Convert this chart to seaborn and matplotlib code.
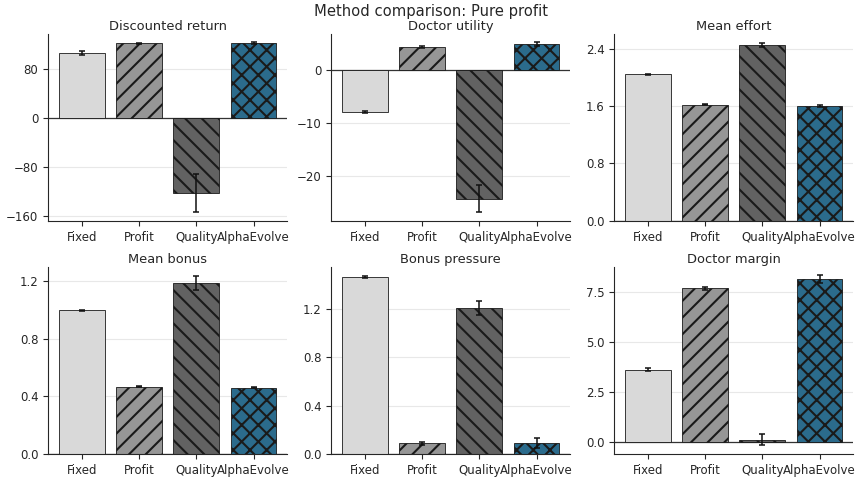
import numpy as np
import pandas as pd
import matplotlib
matplotlib.use('Agg')
import matplotlib.pyplot as plt
import seaborn as sns

# dados =======================================================================
metodos = ['Fixed', 'Profit', 'Quality', 'AlphaEvolve']
cores = ['#d9d9d9', '#969696', '#626262', '#2b6b8c']
hachuras = ['', '//', '\\\\', 'xx']

titulos = ['Discounted return', 'Doctor utility', 'Mean effort',
           'Mean bonus', 'Bonus pressure', 'Doctor margin']

retorno = [107.0, 122.5, -122.5, 123.0]
retorno_err = [3.0, 1.0, 31.0, 1.0]
utilidade = [-7.9, 4.5, -24.4, 5.0]
utilidade_err = [0.15, 0.2, 2.6, 0.3]
esforco = [2.04, 1.62, 2.45, 1.60]
esforco_err = [0.008, 0.008, 0.03, 0.01]
bonus = [0.997, 0.466, 1.186, 0.459]
bonus_err = [0.003, 0.003, 0.05, 0.004]
pressao = [1.46, 0.087, 1.205, 0.09]
pressao_err = [0.01, 0.012, 0.06, 0.04]
margem = [3.63, 7.70, 0.13, 8.15]
margem_err = [0.08, 0.09, 0.3, 0.2]

yticks = [[-160, -80, 0, 80], [-20, -10, 0], [0.0, 0.8, 1.6, 2.4],
          [0.0, 0.4, 0.8, 1.2], [0.0, 0.4, 0.8, 1.2], [0.0, 2.5, 5.0, 7.5]]
yformatos = ['{:.0f}', '{:.0f}', '{:.1f}', '{:.1f}', '{:.1f}', '{:.1f}']

valores = [retorno, utilidade, esforco, bonus, pressao, margem]
erros = [retorno_err, utilidade_err, esforco_err, bonus_err, pressao_err, margem_err]

# plot ========================================================================
sns.set_style('ticks')
plt.rcParams['font.family'] = ['DejaVu Sans']
plt.rcParams['hatch.linewidth'] = 1.5

fig, axes = plt.subplots(2, 3, figsize=(8.61, 4.84), dpi=100)
fig.subplots_adjust(left=0.056, right=0.991, top=0.93, bottom=0.062,
                    wspace=0.184, hspace=0.246)

for ax, titulo, vals, errs, ticks, fmt in zip(axes.flat, titulos, valores, erros,
                                              yticks, yformatos):
    df = pd.DataFrame({'metodo': metodos, 'valor': vals})
    sns.barplot(data=df, x='metodo', y='valor', hue='metodo', palette=cores,
                order=metodos, hue_order=metodos, legend=False, errorbar=None,
                saturation=1, width=0.8, edgecolor='#1a1a1a', linewidth=0.6,
                ax=ax, zorder=2)
    for barra, h in zip(ax.patches, hachuras):
        barra.set_hatch(h)
    ax.errorbar(np.arange(len(metodos)), vals, yerr=errs, fmt='none',
                ecolor='#111111', elinewidth=1.1, capsize=2.5, capthick=1.1, zorder=3)
    ax.axhline(0, color='#333333', linewidth=0.9, zorder=1)
    ax.set_xlim(-0.59, 3.59)
    ax.set_yticks(ticks)
    ax.set_yticklabels([fmt.format(t).replace('-', '\u2212') for t in ticks])
    ax.yaxis.grid(True, color='#e8e8e8', linewidth=0.8, zorder=0)
    ax.set_axisbelow(True)
    ax.set_title(titulo, fontsize=9.4, pad=3)
    ax.set_xlabel('')
    ax.set_ylabel('')
    ax.tick_params(labelsize=8.5, length=3.5)
    sns.despine(ax=ax)

fig.suptitle('Method comparison: Pure profit', fontsize=10.6, y=0.992)
fig.savefig('out.png', dpi=100)
